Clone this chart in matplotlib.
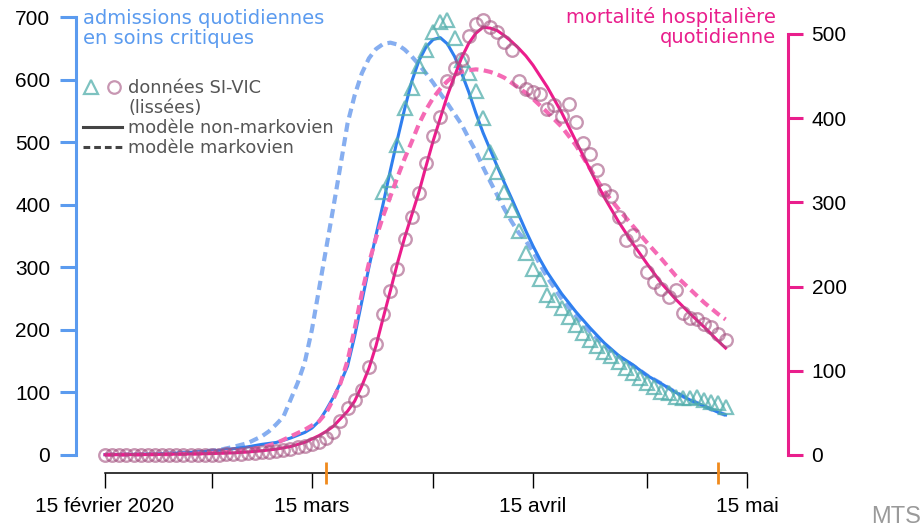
import matplotlib
matplotlib.use("Agg")
import matplotlib.pyplot as plt
from matplotlib.lines import Line2D
from matplotlib.legend_handler import HandlerTuple

# jours depuis le 15 fevrier 2020
tri_days = list(range(39, 88))
tri_vals = [421, 440, 496, 554, 586, 621, 648, 676, 692, 695,
            667, 631, 611, 582, 538, 484, 453, 421, 392, 358,
            323, 297, 281, 256, 248, 235, 221, 208, 195, 184,
            174, 165, 158, 149, 139, 131, 123, 115, 109, 101,
            99, 93, 91, 91, 93, 88, 85, 83, 77]

circ_days = list(range(0, 88))
circ_vals = [0] * 15 + [0.3, 0.5, 0.8, 1, 1.5, 2, 2.5, 3, 4, 5, 6, 7, 9, 11, 13] + [
    15, 20, 27, 40, 56, 65, 77, 105, 132, 167,
    195, 221, 256, 283, 311, 347, 379, 402, 444, 460,
    470, 498, 512, 517, 508, 502, 490, 481, 444, 435,
    431, 429, 411, 416, 403, 417, 396, 370, 357, 339,
    315, 307, 283, 255, 261, 242, 217, 205, 197, 188,
    196, 169, 163, 161, 155, 152, 144, 136]

# modele non-markovien, admissions
icu_nm_days = [0, 4, 8, 12, 16, 18, 20, 22, 24, 26, 28, 29, 30, 31, 32, 33, 34, 35, 36,
               37, 38, 39, 40, 41, 42, 43, 44, 45, 46, 47, 48, 49, 50, 51, 52, 53, 54,
               55, 56, 57, 58, 59, 60, 61, 62, 63, 64, 66, 68, 70, 72, 74, 76, 78, 80,
               82, 84, 86, 87]
icu_nm_vals = [0.5, 1, 2, 4, 7.5, 10, 13, 17, 20, 27, 36, 43, 54, 72, 92, 115, 142, 190, 245,
               300, 352, 402, 455, 505, 553, 597, 630, 652, 664, 667, 657, 637, 610, 580, 546,
               515, 488, 461, 435, 410, 384, 358, 334, 312, 292, 275, 258, 229, 203, 179, 159,
               144, 127, 114, 100, 88, 78, 68, 64]

# modele markovien, admissions
icu_m_days = [0, 4, 8, 12, 16, 18, 20, 22, 23, 24, 25, 26, 27, 28, 29, 30, 31, 32, 33, 34,
              35, 36, 37, 38, 39, 40, 41, 42, 43, 44, 45, 46, 47, 48, 49, 50, 51, 52, 53,
              54, 55, 56, 57, 58, 59, 60, 62, 64, 66, 68, 70, 72, 74, 76, 78, 80, 82, 84,
              86, 87]
icu_m_vals = [0.5, 1, 2, 4, 8, 13, 19, 30, 38, 49, 61, 88, 115, 148, 200, 265, 330, 395, 462,
              530, 575, 610, 634, 649, 657, 659, 656, 648, 637, 624, 610, 595, 578, 562, 545,
              528, 506, 485, 460, 437, 415, 393, 373, 355, 342, 325, 284, 250, 222, 197, 175,
              157, 143, 127, 114, 100, 88, 78, 68, 64]

# modele non-markovien, deces
dth_nm_days = [0, 6, 10, 14, 18, 20, 22, 24, 26, 28, 30, 31, 32, 33, 34, 35, 36, 37, 38, 39,
               40, 41, 42, 43, 44, 45, 46, 47, 48, 49, 50, 51, 52, 53, 54, 55, 56, 57, 58,
               59, 60, 61, 62, 63, 64, 65, 66, 67, 68, 69, 70, 72, 74, 76, 78, 80, 82, 84,
               86, 87]
dth_nm_vals = [0.3, 0.5, 1, 1.5, 2.5, 3.5, 5, 7, 10, 15, 23, 28, 34, 43, 52, 64, 82, 103, 130,
               163, 195, 228, 258, 285, 312, 343, 373, 400, 427, 450, 472, 489, 501, 508, 507,
               504, 498, 491, 483, 474, 463, 450, 437, 422, 407, 390, 373, 356, 339, 322, 306,
               277, 251, 227, 204, 185, 168, 152, 135, 127]

# modele markovien, deces
dth_m_days = [0, 10, 14, 18, 20, 22, 24, 26, 28, 29, 30, 31, 32, 33, 34, 35, 36, 37, 38, 39,
              40, 41, 42, 43, 44, 45, 46, 47, 48, 49, 50, 51, 52, 53, 54, 55, 56, 57, 58,
              59, 60, 62, 64, 66, 68, 70, 72, 74, 76, 78, 80, 82, 84, 86, 87]
dth_m_vals = [0.3, 1, 2, 4, 6, 9, 14, 22, 30, 35, 40, 50, 66, 85, 112, 150, 192, 228, 258, 284,
              307, 330, 352, 372, 393, 410, 424, 435, 444, 451, 455, 457, 458, 457, 455, 452,
              448, 442, 436, 430, 423, 407, 390, 368, 340, 313, 292, 272, 252, 233, 213, 197,
              181, 167, 161]

xtick_days = [0, 29, 60, 90]
xtick_labels = ["15 février 2020", "15 mars", "15 avril", "15 mai"]
xminor_days = [15, 46, 76]
events = [31, 86]

blue = "#5b9bef"
blue_line = "#2f7fef"
blue_dash = "#86aef0"
mag = "#e91e8c"
mag_line = "#ec1c8c"
pink_dash = "#f56ab5"
teal = "#52aeab"
mauve = "#a3517f"
orange = "#f08a1c"
tickfont = ["Liberation Sans", "DejaVu Sans"]

fig = plt.figure(figsize=(9.24, 5.28), dpi=100)
ax = fig.add_axes([76 / 924, 55 / 528, 712 / 924, 463 / 528])
ax2 = ax.twinx()

ax.set_xlim(-4.07, 95.75)
ax.set_ylim(-28.8, 711.2)
ax2.set_ylim(-21.4, 528.5)

ax.plot(icu_m_days, icu_m_vals, color=blue_dash, lw=3, ls=(0, (2.2, 1.3)), zorder=2)
ax.plot(icu_nm_days, icu_nm_vals, color=blue_line, lw=2.2, zorder=3)
ax.plot(tri_days, tri_vals, ls="none", marker="^", ms=10.5, mfc="none",
        mec=teal, mew=1.6, alpha=0.75, zorder=4)

ax2.plot(dth_m_days, dth_m_vals, color=pink_dash, lw=3, ls=(0, (2.2, 1.3)), zorder=2)
ax2.plot(dth_nm_days, dth_nm_vals, color=mag_line, lw=2.2, zorder=3)
ax2.plot(circ_days, circ_vals, ls="none", marker="o", ms=9, mfc="none",
         mec=mauve, mew=1.7, alpha=0.6, zorder=4)

# axes
for s in ["top", "right"]:
    ax.spines[s].set_visible(False)
for s in ["top", "left", "bottom"]:
    ax2.spines[s].set_visible(False)
ax.spines["left"].set_bounds(0, 700)
ax.spines["left"].set_color(blue)
ax.spines["left"].set_linewidth(2.2)
ax.spines["bottom"].set_bounds(0, 90)
ax.spines["bottom"].set_linewidth(1.1)
ax2.spines["right"].set_bounds(0, 500)
ax2.spines["right"].set_color(mag)
ax2.spines["right"].set_linewidth(2.2)

ax.set_yticks(range(0, 701, 100))
ax2.set_yticks(range(0, 501, 100))
ax.tick_params(axis="y", length=11.5, width=2.2, color=blue, pad=7, labelsize=15)
ax2.tick_params(axis="y", length=11, width=2.2, color=mag, pad=6, labelsize=15)
for lab in ax.get_yticklabels() + ax2.get_yticklabels():
    lab.set_family(tickfont)

ax.set_xticks(xtick_days, labels=xtick_labels)
ax.set_xticks(xminor_days, minor=True)
ax.tick_params(axis="x", which="both", length=11, width=1.0, color="black", pad=6, labelsize=15)
for lab in ax.get_xticklabels():
    lab.set_family(tickfont)

ax.vlines(events, -11 / 463, 11 / 463, transform=ax.get_xaxis_transform(),
          colors=orange, lw=2, clip_on=False, zorder=5)

# titres
fig.text(83 / 924, 1 - 9 / 528, "admissions quotidiennes\nen soins critiques",
         color=blue, fontsize=14, ha="left", va="top", linespacing=1.05)
fig.text(776 / 924, 1 - 7 / 528, "mortalité hospitalière\nquotidienne",
         color=mag, fontsize=14, ha="right", va="top", linespacing=1.05,
         multialignment="right")
fig.text(921 / 924, 1 - 517 / 528, "MTS", color="#9a9a9a", fontsize=17,
         ha="right", va="center", family=tickfont)

# legende
h_data = (Line2D([], [], ls="none", marker="^", ms=10, mfc="none", mec=teal, mew=1.6, alpha=0.75),
          Line2D([], [], ls="none", marker="o", ms=9, mfc="none", mec=mauve, mew=1.6, alpha=0.6))
h_blank = Line2D([], [], ls="none")
h_nm = Line2D([], [], color="#444444", lw=2.2)
h_m = Line2D([], [], color="#444444", lw=2.2, ls=(0, (2.2, 1.3)))
leg = ax2.legend([h_data, h_blank, h_nm, h_m],
                 ["données SI-VIC", "(lissées)", "modèle non-markovien", "modèle markovien"],
                 handler_map={tuple: HandlerTuple(ndivide=None, pad=0.3)},
                 loc="upper left", bbox_to_anchor=(83 / 924, 1 - 79 / 528),
                 bbox_transform=fig.transFigure, frameon=False, fontsize=12.8,
                 handlelength=2.2, handletextpad=0.35, labelspacing=0.12,
                 borderpad=0, borderaxespad=0)
for t in leg.get_texts():
    t.set_color("#555555")

fig.savefig("out.png", dpi=100)
